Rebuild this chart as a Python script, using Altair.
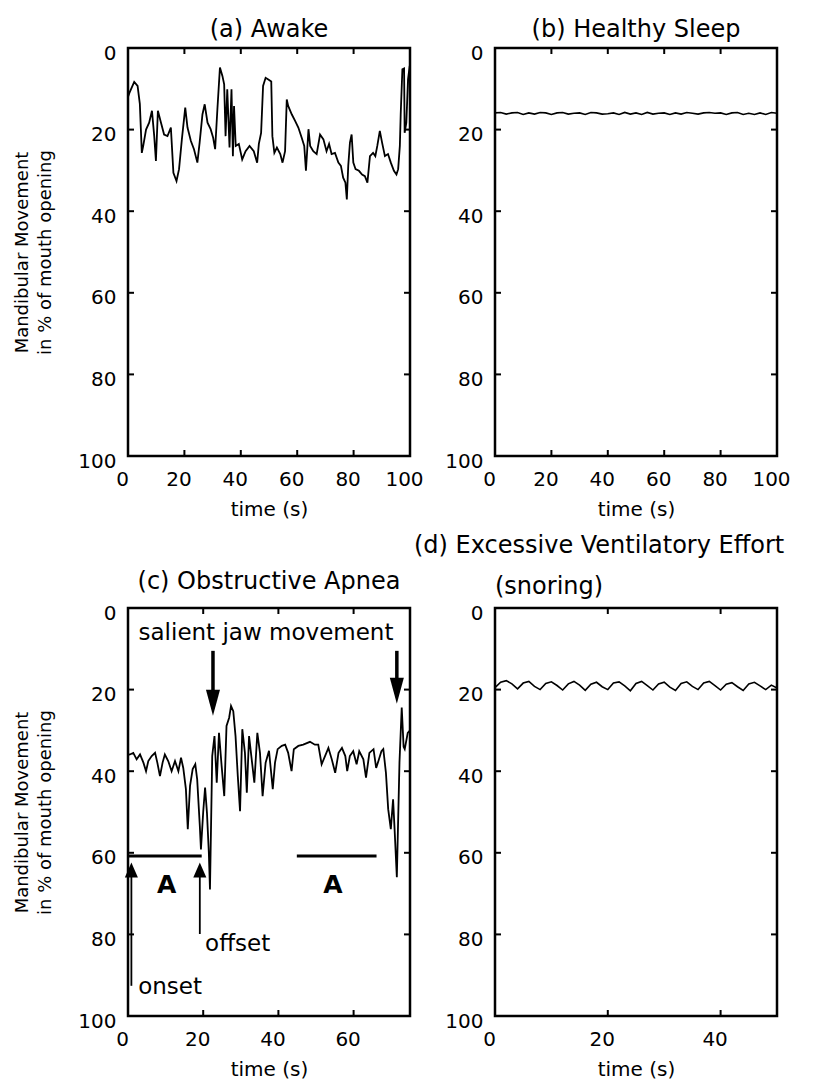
import altair as alt
import pandas as pd

# ---------------- data ----------------
# (a) Awake
t_a = [0, 0.5, 2.2, 3.4, 4.2, 4.9, 5.4, 6.4, 7.5, 8.5, 9.3, 9.9, 10.6, 11.7, 12.8, 14.0, 15.2, 16.1, 17.2, 18.1,
       19.1, 20.3, 21.1, 22.3, 23.4, 24.6, 25.4, 26.4, 27.2, 28.2, 29.3, 30.2, 30.9, 31.7, 32.6, 33.5, 34.1, 34.6,
       35.2, 36.0, 36.7, 37.2, 37.6, 38.2, 39.3, 40.5, 41.7, 43.1, 44.6, 45.8, 46.4, 47.2, 47.9, 48.8, 49.9, 50.8,
       51.2, 51.9, 52.8, 54.0, 54.8, 55.7, 56.3, 56.8, 58.1, 59.3, 60.4, 61.6, 62.5, 63.1, 64.0, 64.6, 65.7, 66.9,
       68.1, 69.3, 70.4, 71.3, 72.2, 73.4, 74.6, 75.5, 76.3, 77.1, 77.6, 78.1, 78.7, 79.3, 79.9, 80.7, 81.9, 83.0,
       84.0, 84.9, 85.8, 86.9, 87.7, 88.4, 89.3, 90.1, 91.1, 92.2, 93.2, 94.3, 95.2, 95.8, 96.4, 96.7, 97.3, 97.9,
       98.1, 98.7, 99.3, 99.9, 100]
v_a = [12, 11, 8.3, 9.3, 13.7, 25.7, 24, 20, 18.3, 15.4, 21.6, 27.7, 15.4, 18.3, 21.2, 21.6, 19.5, 30.6, 32.6, 29.7,
       22.4, 14.6, 19.5, 22.8, 24.8, 28.1, 23.2, 16.3, 13.8, 18.3, 19.9, 22, 24.8, 15, 4.8, 6.9, 8.9, 21.6,
       10.1, 24.4, 10.1, 26.5, 14.2, 24, 23.5, 27.3, 25.3, 24, 25.3, 28.1, 23.5, 20.8, 9.3, 7.3, 7.8, 8.2,
       21.6, 25.7, 24.4, 26, 28.1, 25.3, 12.6, 14.2, 16.3, 17.9, 19.5, 22, 24, 30.1, 19.9, 24, 25.3, 26,
       21.2, 22.4, 25.3, 23.5, 26, 25.7, 28.1, 28.9, 31.8, 33, 37.1, 28.9, 23.2, 21.2, 28.1, 29.7, 30.1, 31,
       31.4, 33, 26.5, 25.7, 26.5, 24, 20.3, 23.2, 26.5, 26, 28.1, 30.1, 31, 29.7, 24, 16.3, 5.2, 5,
       20.8, 18.3, 7.7, 4.4, 20.8]

# (b) Healthy Sleep
t_b = list(range(0, 101, 2))
v_b = [15.9, 15.8, 16.2, 15.9, 15.8, 16.3, 15.9, 16.2, 15.8, 15.9,
       16.3, 15.9, 15.8, 16.2, 16.0, 15.9, 16.3, 15.8, 15.9, 16.2,
       16.1, 15.9, 16.3, 15.8, 16.2, 15.9, 16.3, 15.8, 16.2, 16.0,
       15.9, 16.3, 15.9, 16.2, 15.8, 16.0, 16.2, 15.9, 15.8, 16.0,
       15.9, 16.3, 15.9, 15.8, 16.3, 16.0, 16.3, 15.9, 16.3, 15.8,
       16.0]

# (c) Obstructive Apnea
t_c = [0, 0.5, 1.4, 2.3, 3.2, 4.1, 4.8, 5.4, 6.3, 7.2, 7.8, 8.5, 9.2, 9.8, 10.7, 11.6, 12.5, 13.4, 14.1, 14.7,
       15.4, 15.9, 16.5, 17.2, 17.9, 18.4, 19.1, 19.4, 20.0, 20.5, 21.0, 21.5, 21.8, 22.4, 23.0, 23.6, 24.2, 24.9,
       25.6, 26.2, 26.9, 27.4, 28.0, 28.6, 29.2, 29.8, 30.4, 31.1, 31.6, 32.2, 32.8, 33.6, 34.4, 35.1, 35.8, 36.6,
       37.5, 38.5, 39.1, 39.8, 40.9, 41.8, 42.6, 43.5, 44.1, 45.3, 46.6, 48.4, 49.7, 50.6, 51.5, 52.4, 53.3, 54.2,
       55.1, 56.0, 56.9, 57.8, 58.3, 59.0, 59.9, 60.8, 61.5, 62.6, 63.3, 64.2, 65.3, 66.0, 66.6, 67.4, 67.9, 68.6,
       69.2, 69.9, 70.5, 70.9, 71.5, 72.2, 72.8, 73.3, 73.6, 74.4, 75]
v_c = [36, 35.9, 35.5, 37.1, 35.9, 37.9, 40, 37.5, 36.3, 35.5, 37.9, 41.2, 37.9, 35.9, 37.5, 40, 37.5, 40, 36.7, 39.2,
       44.4, 54.2, 43.6, 39.5, 38.3, 42, 53.4, 59.2, 50, 44, 50.2, 60, 69, 36.3, 31.4, 42.8, 30.6, 38.7,
       46.1, 28.9, 26.9, 24, 25.3, 31.4, 41.2, 49.8, 29.7, 35.5, 45.3, 31.4, 36.3, 42.8, 30.6, 35.5, 46.1, 37.9,
       35, 44.4, 37.9, 34.6, 33.8, 33.5, 35.5, 40, 34.6, 33.8, 33.5, 32.8, 33.5, 33.5, 38.3, 36.3, 34.3, 37.1,
       40.4, 35.5, 34.3, 36.3, 40, 36.3, 35.1, 38.3, 35.1, 37.1, 41.6, 35.5, 34.6, 39.2, 37.5, 35.1, 34.6, 40.4,
       49.3, 54.2, 46.9, 54.2, 66, 37.9, 24.4, 34, 34.6, 30.6, 30]

# (d) Excessive Ventilatory Effort (snoring)
t_d = list(range(0, 51))
v_d = [19.5, 18.2, 17.8, 18.6, 19.8, 18.4, 18.0, 19.2, 20.0, 18.5,
       18.1, 19.0, 20.1, 18.6, 18.0, 18.9, 20.2, 18.7, 18.2, 19.3,
       20.0, 18.4, 18.1, 19.1, 20.3, 18.5, 18.0, 19.0, 20.1, 18.6,
       18.2, 19.4, 20.2, 18.5, 18.1, 19.2, 20.0, 18.4, 18.0, 19.0,
       20.1, 18.7, 18.3, 19.3, 20.2, 18.6, 18.2, 19.1, 20.0, 18.9,
       19.6]

# annotations of panel (c)
apnea_bar_start = [0, 44.9]
apnea_bar_end = [19.6, 66.1]
apnea_bar_level = [60.8, 60.8]
apnea_label_t = [10.3, 54.5]
apnea_label_v = [69.8, 69.8]

jaw_arrow_t = [22.6, 71.5]
jaw_arrow_top = [10.5, 10.5]
jaw_arrow_head = [23.2, 20.3]

event_arrow_t = [0.9, 19.1]
event_arrow_bottom = [92.6, 79.9]
event_arrow_head = [64.2, 64.2]
event_label_t = [2.7, 20.5]
event_label_v = [94.6, 84.1]
event_labels = ["onset", "offset"]

jaw_label_t = [36.7]
jaw_label_v = [7.8]
jaw_label = ["salient jaw movement"]

Y_TICKS = [0, 20, 40, 60, 80, 100]
Y_TITLE = ["Mandibular Movement", "in % of mouth opening"]

# ---------------- styling ----------------
FONT = "DejaVu Sans"
W = 282
H = 408
TICK = 6


def xenc(field, xmax, xticks):
    return alt.X(
        f"{field}:Q",
        scale=alt.Scale(domain=[0, xmax], nice=False, zero=False),
        axis=alt.Axis(values=xticks, tickSize=0, domain=False, grid=False, labelPadding=13,
                      labelOffset=-6, labelFlush=False, labelFontSize=20, labelColor="black",
                      title="time (s)", titleFontSize=20, titleFontWeight="normal",
                      titlePadding=10, titleColor="black"),
    )


def yenc(field, show_title):
    if show_title:
        ax = alt.Axis(values=Y_TICKS, tickSize=0, domain=False, grid=False, labelPadding=12,
                      labelOffset=5, labelFlush=False, labelFontSize=20, labelColor="black",
                      title=Y_TITLE, titleFontSize=18, titleFontWeight="normal",
                      titlePadding=23, titleLineHeight=23, titleColor="black")
    else:
        ax = alt.Axis(values=Y_TICKS, tickSize=0, domain=False, grid=False, labelPadding=12,
                      labelOffset=5, labelFlush=False, labelFontSize=20, labelColor="black",
                      title=None)
    return alt.Y(f"{field}:Q", scale=alt.Scale(domain=[0, 100], nice=False, zero=False, reverse=True),
                 axis=ax)


def panel(t, v, xmax, xticks, show_title, line_width, extra=None, title=None):
    df = pd.DataFrame({"t": t, "v": v})
    xt = pd.DataFrame({"t": xticks})
    yt = pd.DataFrame({"v": Y_TICKS})
    X = lambda f: xenc(f, xmax, xticks)
    Y = lambda f: yenc(f, show_title)
    line = alt.Chart(df).mark_line(color="black", strokeWidth=line_width).encode(x=X("t"), y=Y("v"))
    bottom = alt.Chart(xt).mark_rule(color="black", strokeWidth=2).encode(
        x=X("t"), y=alt.value(H), y2=alt.value(H - TICK))
    top = alt.Chart(xt).mark_rule(color="black", strokeWidth=2).encode(
        x=X("t"), y=alt.value(0), y2=alt.value(TICK))
    left = alt.Chart(yt).mark_rule(color="black", strokeWidth=2).encode(
        y=Y("v"), x=alt.value(0), x2=alt.value(TICK))
    right = alt.Chart(yt).mark_rule(color="black", strokeWidth=2).encode(
        y=Y("v"), x=alt.value(W), x2=alt.value(W - TICK))
    layers = [bottom, top, left, right]
    if extra is not None:
        layers += extra(X, Y)
    layers.append(line)
    props = dict(width=W, height=H)
    if title is not None:
        props["title"] = title
    return alt.layer(*layers).properties(**props)


def ttl(text, offset):
    return alt.Title(text, fontSize=24, fontWeight="normal", anchor="middle", offset=offset,
                     color="black", font=FONT)


def c_extra(X, Y):
    bars = pd.DataFrame({"t": apnea_bar_start, "t2": apnea_bar_end, "v": apnea_bar_level})
    alab = pd.DataFrame({"t": apnea_label_t, "v": apnea_label_v, "label": ["A", "A"]})
    jaw = pd.DataFrame({"t": jaw_arrow_t, "v1": jaw_arrow_top, "v": jaw_arrow_head})
    ev = pd.DataFrame({"t": event_arrow_t, "v1": event_arrow_bottom, "v": event_arrow_head})
    evl = pd.DataFrame({"t": event_label_t, "v": event_label_v, "label": event_labels})
    jl = pd.DataFrame({"t": jaw_label_t, "v": jaw_label_v, "label": jaw_label})
    return [
        alt.Chart(bars).mark_rule(color="black", strokeWidth=3).encode(x=X("t"), x2="t2", y=Y("v")),
        alt.Chart(alab).mark_text(fontSize=25, fontWeight="bold", baseline="alphabetic",
                                  align="center", color="black", font=FONT).encode(
            x=X("t"), y=Y("v"), text="label:N"),
        alt.Chart(jaw).mark_rule(color="black", strokeWidth=3.5).encode(x=X("t"), y=Y("v1"), y2="v"),
        alt.Chart(jaw).mark_point(shape="M-0.54,-1L0.54,-1L0,1Z", size=676, filled=True,
                                  color="black", opacity=1).encode(x=X("t"), y=Y("v")),
        alt.Chart(ev).mark_rule(color="black", strokeWidth=1.8).encode(x=X("t"), y=Y("v1"), y2="v"),
        alt.Chart(ev).mark_point(shape="M-0.87,1L0.87,1L0,-1Z", size=225, filled=True,
                                 color="black", opacity=1).encode(x=X("t"), y=Y("v")),
        alt.Chart(evl).mark_text(fontSize=23, baseline="alphabetic", align="left",
                                 color="black", font=FONT).encode(x=X("t"), y=Y("v"), text="label:N"),
        alt.Chart(jl).mark_text(fontSize=23, baseline="alphabetic", align="center",
                                color="black", font=FONT).encode(x=X("t"), y=Y("v"), text="label:N"),
    ]


def d_extra(X, Y):
    return [
        alt.Chart(pd.DataFrame({"label": ["(d) Excessive Ventilatory Effort"]})).mark_text(
            fontSize=24, baseline="bottom", align="left", color="black", font=FONT).encode(
            x=alt.value(-81), y=alt.value(-50), text="label:N"),
        alt.Chart(pd.DataFrame({"label": ["(snoring)"]})).mark_text(
            fontSize=24, baseline="bottom", align="left", color="black", font=FONT).encode(
            x=alt.value(0), y=alt.value(-9), text="label:N"),
    ]


pa = panel(t_a, v_a, 100, [0, 20, 40, 60, 80, 100], True, 1.8, title=ttl("(a) Awake", 1))
pb = panel(t_b, v_b, 100, [0, 20, 40, 60, 80, 100], False, 1.6, title=ttl("(b) Healthy Sleep", 1))
pc = panel(t_c, v_c, 75, [0, 20, 40, 60], True, 1.8, extra=c_extra,
           title=ttl("(c) Obstructive Apnea", 9))
pd_ = panel(t_d, v_d, 50, [0, 20, 40], False, 1.6, extra=d_extra)

chart = alt.concat(pa, pb, pc, pd_, columns=2, spacing={"row": 152, "column": 85},
                   bounds="flush").properties(
    padding={"left": 4, "top": 8, "right": 4, "bottom": 0}).configure(font=FONT).configure_view(
    stroke="black", strokeWidth=2.5)

chart.save("out.html", embed_options={"renderer": "svg", "actions": False})
